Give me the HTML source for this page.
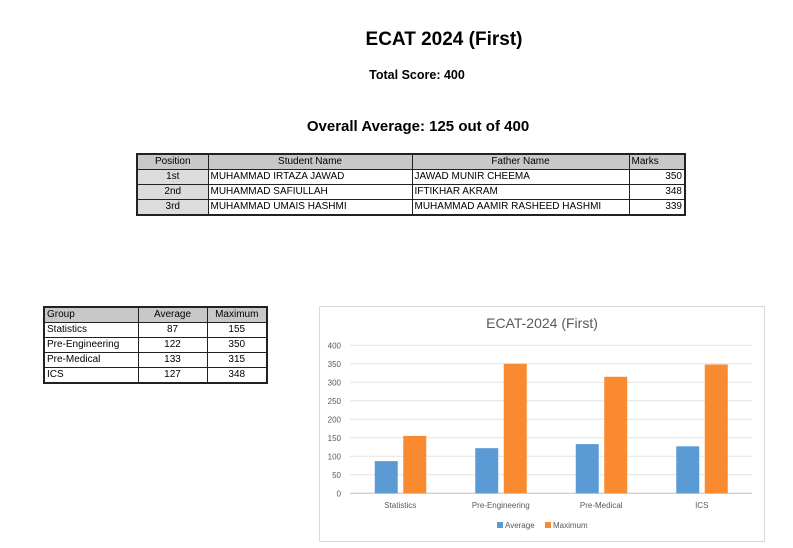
<!DOCTYPE html>
<html><head><meta charset="utf-8"><style>
body{margin:0;width:793px;height:548px;background:#fff;position:relative;font-family:"Liberation Sans",sans-serif;overflow:hidden}
.t{position:absolute;font-weight:bold;color:#000;white-space:nowrap;transform:translateX(-50%)}
table{position:absolute;border-collapse:collapse;font-size:10px;color:#000}
td{border:1px solid #222;padding:0 2px;height:14px;line-height:14px;white-space:nowrap;overflow:hidden;box-sizing:border-box}
tr{height:15px}
#t1{left:136px;top:153px;border:2px solid #222;table-layout:fixed;width:548px}
#t2{left:43px;top:306px;border:2px solid #222;table-layout:fixed;width:223px}
.h td{background:#c8c8c8;text-align:center}
.p{background:#dcdcdc;text-align:center}
.r{text-align:right}.c{text-align:center}
</style></head><body>
<div class="t" style="left:444px;top:29px;font-size:19px">ECAT 2024 (First)</div>
<div class="t" style="left:417px;top:68px;font-size:12.5px">Total Score: 400</div>
<div class="t" style="left:418px;top:118px;font-size:15px">Overall Average: 125 out of 400</div>
<table id="t1">
<colgroup><col style="width:71px"><col style="width:204px"><col style="width:217px"><col style="width:56px"></colgroup>
<tr class="h"><td>Position</td><td>Student Name</td><td>Father Name</td><td style="text-align:left">Marks</td></tr>
<tr><td class="p">1st</td><td>MUHAMMAD IRTAZA JAWAD</td><td>JAWAD MUNIR CHEEMA</td><td class="r">350</td></tr>
<tr><td class="p">2nd</td><td>MUHAMMAD SAFIULLAH</td><td>IFTIKHAR AKRAM</td><td class="r">348</td></tr>
<tr><td class="p">3rd</td><td>MUHAMMAD UMAIS HASHMI</td><td>MUHAMMAD AAMIR RASHEED HASHMI</td><td class="r">339</td></tr>
</table>
<table id="t2">
<colgroup><col style="width:94px"><col style="width:69px"><col style="width:60px"></colgroup>
<tr class="h"><td style="text-align:left">Group</td><td>Average</td><td>Maximum</td></tr>
<tr><td>Statistics</td><td class="c">87</td><td class="c">155</td></tr>
<tr><td>Pre-Engineering</td><td class="c">122</td><td class="c">350</td></tr>
<tr><td>Pre-Medical</td><td class="c">133</td><td class="c">315</td></tr>
<tr><td>ICS</td><td class="c">127</td><td class="c">348</td></tr>
</table>
<svg id="chart" style="position:absolute;left:0;top:0" width="793" height="548"></svg>
<script>
const categories=["Statistics","Pre-Engineering","Pre-Medical","ICS"];
const averageValues=[87,122,133,127];
const maximumValues=[155,350,315,348];
const yTicks=[0,50,100,150,200,250,300,350,400];
const svg=document.getElementById('chart');
const NS="http://www.w3.org/2000/svg";
const x0=350,x1=752,y0=493.3,y1=345.3,yMax=400;
const band=(x1-x0)/categories.length;
const ys=v=>y0-(v/yMax)*(y0-y1);
function mk(t,a,txt){const e=document.createElementNS(NS,t);for(const k in a)e.setAttribute(k,a[k]);if(txt!==undefined)e.textContent=txt;svg.appendChild(e);return e;}
let e=mk('rect',{x:319.5,y:306.5,width:445,height:235,fill:'#fff',stroke:'#d9d9d9'});


e=mk('text',{x:542,y:328,'font-size':14,fill:'#595959','text-anchor':'middle'},'ECAT-2024 (First)');


yTicks.forEach(v=>{
 const g=mk('line',{x1:x0,x2:x1,y1:ys(v),y2:ys(v),stroke:v===0?'#bfbfbf':'#e3e3e3','stroke-width':1});
 
 
 const t=mk('text',{x:341,y:ys(v)+3,'font-size':8,fill:'#595959','text-anchor':'end'},v);
 
 
});
categories.forEach((c,i)=>{
 const cx=x0+band*(i+0.5);
 const a=mk('rect',{x:cx-25.5,y:ys(averageValues[i]),width:23,height:y0-ys(averageValues[i]),fill:'#5b9bd5'});
 
 
 const m=mk('rect',{x:cx+3,y:ys(maximumValues[i]),width:23,height:y0-ys(maximumValues[i]),fill:'#f98a30'});
 
 
 const t=mk('text',{x:cx,y:508,'font-size':8,fill:'#595959','text-anchor':'middle'},c);
 
 
});
e=mk('rect',{x:497,y:522,width:6,height:6,fill:'#5b9bd5'});


e=mk('text',{x:505,y:528,'font-size':8,fill:'#595959'},'Average');


e=mk('rect',{x:545,y:522,width:6,height:6,fill:'#f98a30'});


e=mk('text',{x:553,y:528,'font-size':8,fill:'#595959'},'Maximum');


</script>
</body></html>
